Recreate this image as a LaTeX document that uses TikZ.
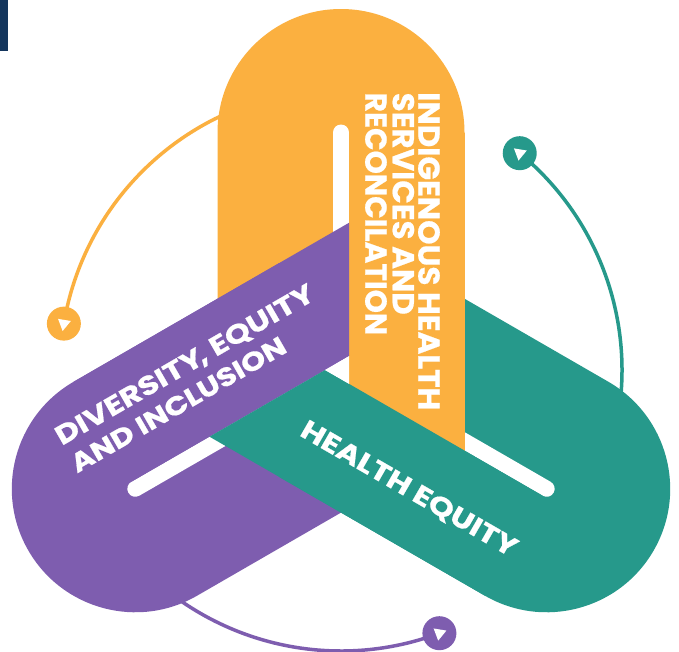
\documentclass[tikz,border=0pt]{standalone}
\usepackage{fontspec}
\newfontfamily\lblfont{Poppins}[BoldFeatures={FakeBold=0.6}]
\usetikzlibrary{calc}
\definecolor{barorange}{HTML}{FBB040}
\definecolor{barpurple}{HTML}{7E5DAF}
\definecolor{barteal}{HTML}{26998B}
\definecolor{navy}{HTML}{14365D}

\begin{document}
\begin{tikzpicture}[x=1pt,y=-1pt,
  lbl/.style={text=white, inner sep=0pt, font=\lblfont\bfseries},
  ring/.style={line width=3.5pt},
  marker/.style={circle, inner sep=0pt, minimum size=34pt},
  slot/.style={white, line width=16pt, line cap=round},
]
\useasboundingbox (0,0) rectangle (679,651);
\fill[white] (0,0) rectangle (679,651);
\coordinate (O) at (341,370);
\fill[navy] (0,0) rectangle (8,51);

% orbit arcs with their arrow markers (one module, turned about O)
\foreach \ang/\col/\nm in {0/barorange/o, 120/barpurple/p, 240/barteal/t} {
  \begin{scope}[shift={(O)}, rotate=\ang]
    \coordinate (s\nm) at (260:281);
    \draw[ring, \col] (s\nm) arc[start angle=260, end angle=189.5, radius=281];
    \node[marker, fill=\col] (c\nm) at (189.5:281) {};
    \fill[white] (-278.39,-38.98) -- (-282.94,-51.15) -- (-270.12,-49.01) -- cycle;
  \end{scope}
}

% bars: outer rounded end down to the centre, with the white slot
\foreach \ang/\col in {0/barorange, 120/barpurple, 240/barteal} {
  \begin{scope}[shift={(O)}, rotate=\ang]
    \fill[\col] (-123.5,0) -- (-123.5,-237.5)
      arc[start angle=180, end angle=360, radius=123.5] -- (123.5,0) -- cycle;
    \draw[slot] (0,-237.5) -- (0,0);
  \end{scope}
}

% over-halves, woven: orange over purple, purple over teal, teal over orange
\fill[barorange, shift={(O)}] (8,-237.5) rectangle (123.5,110);
\begin{scope}
  \clip[shift={(O)}] (-900,-900) rectangle (8,900);
  \fill[barpurple, shift={(O)}, rotate=120] (8,-237.5) rectangle (123.5,110);
\end{scope}
\begin{scope}
  \clip[shift={(O)}, rotate=120] (-900,-900) rectangle (8,900);
  \fill[barteal, shift={(O)}, rotate=240] (8,-237.5) rectangle (123.5,110);
\end{scope}

% small open triangle where the three slots meet
\fill[white, shift={(O)}] (-16,0) -- (8,13.86) -- (8,-13.86) -- cycle;

% labels
\node[lbl, rotate=-90, anchor=base west] (o1) at (418.3,92)
  {\resizebox{318pt}{21.5pt}{INDIGENOUS HEALTH}};
\node[lbl, rotate=-90, anchor=base west] (o2) at (392.7,92.5)
  {\resizebox{222pt}{21.5pt}{SERVICES AND}};
\node[lbl, rotate=-90, anchor=base west] (o3) at (365.3,92.5)
  {\resizebox{242.5pt}{21.5pt}{RECONCILATION}};

\node[lbl, rotate=30, anchor=base west] (p1) at (61.7,446)
  {\resizebox{294pt}{19pt}{DIVERSITY\kern-0.12em, EQUITY}};
\node[lbl, rotate=30, anchor=base west] (p2) at (77,473.5)
  {\resizebox{244pt}{18.5pt}{AND INCLUSION}};

\node[lbl, rotate=-30, anchor=base west] (t1) at (298.5,435)
  {\resizebox{245pt}{19pt}{HEALTH EQUITY}};
\end{tikzpicture}
\end{document}
